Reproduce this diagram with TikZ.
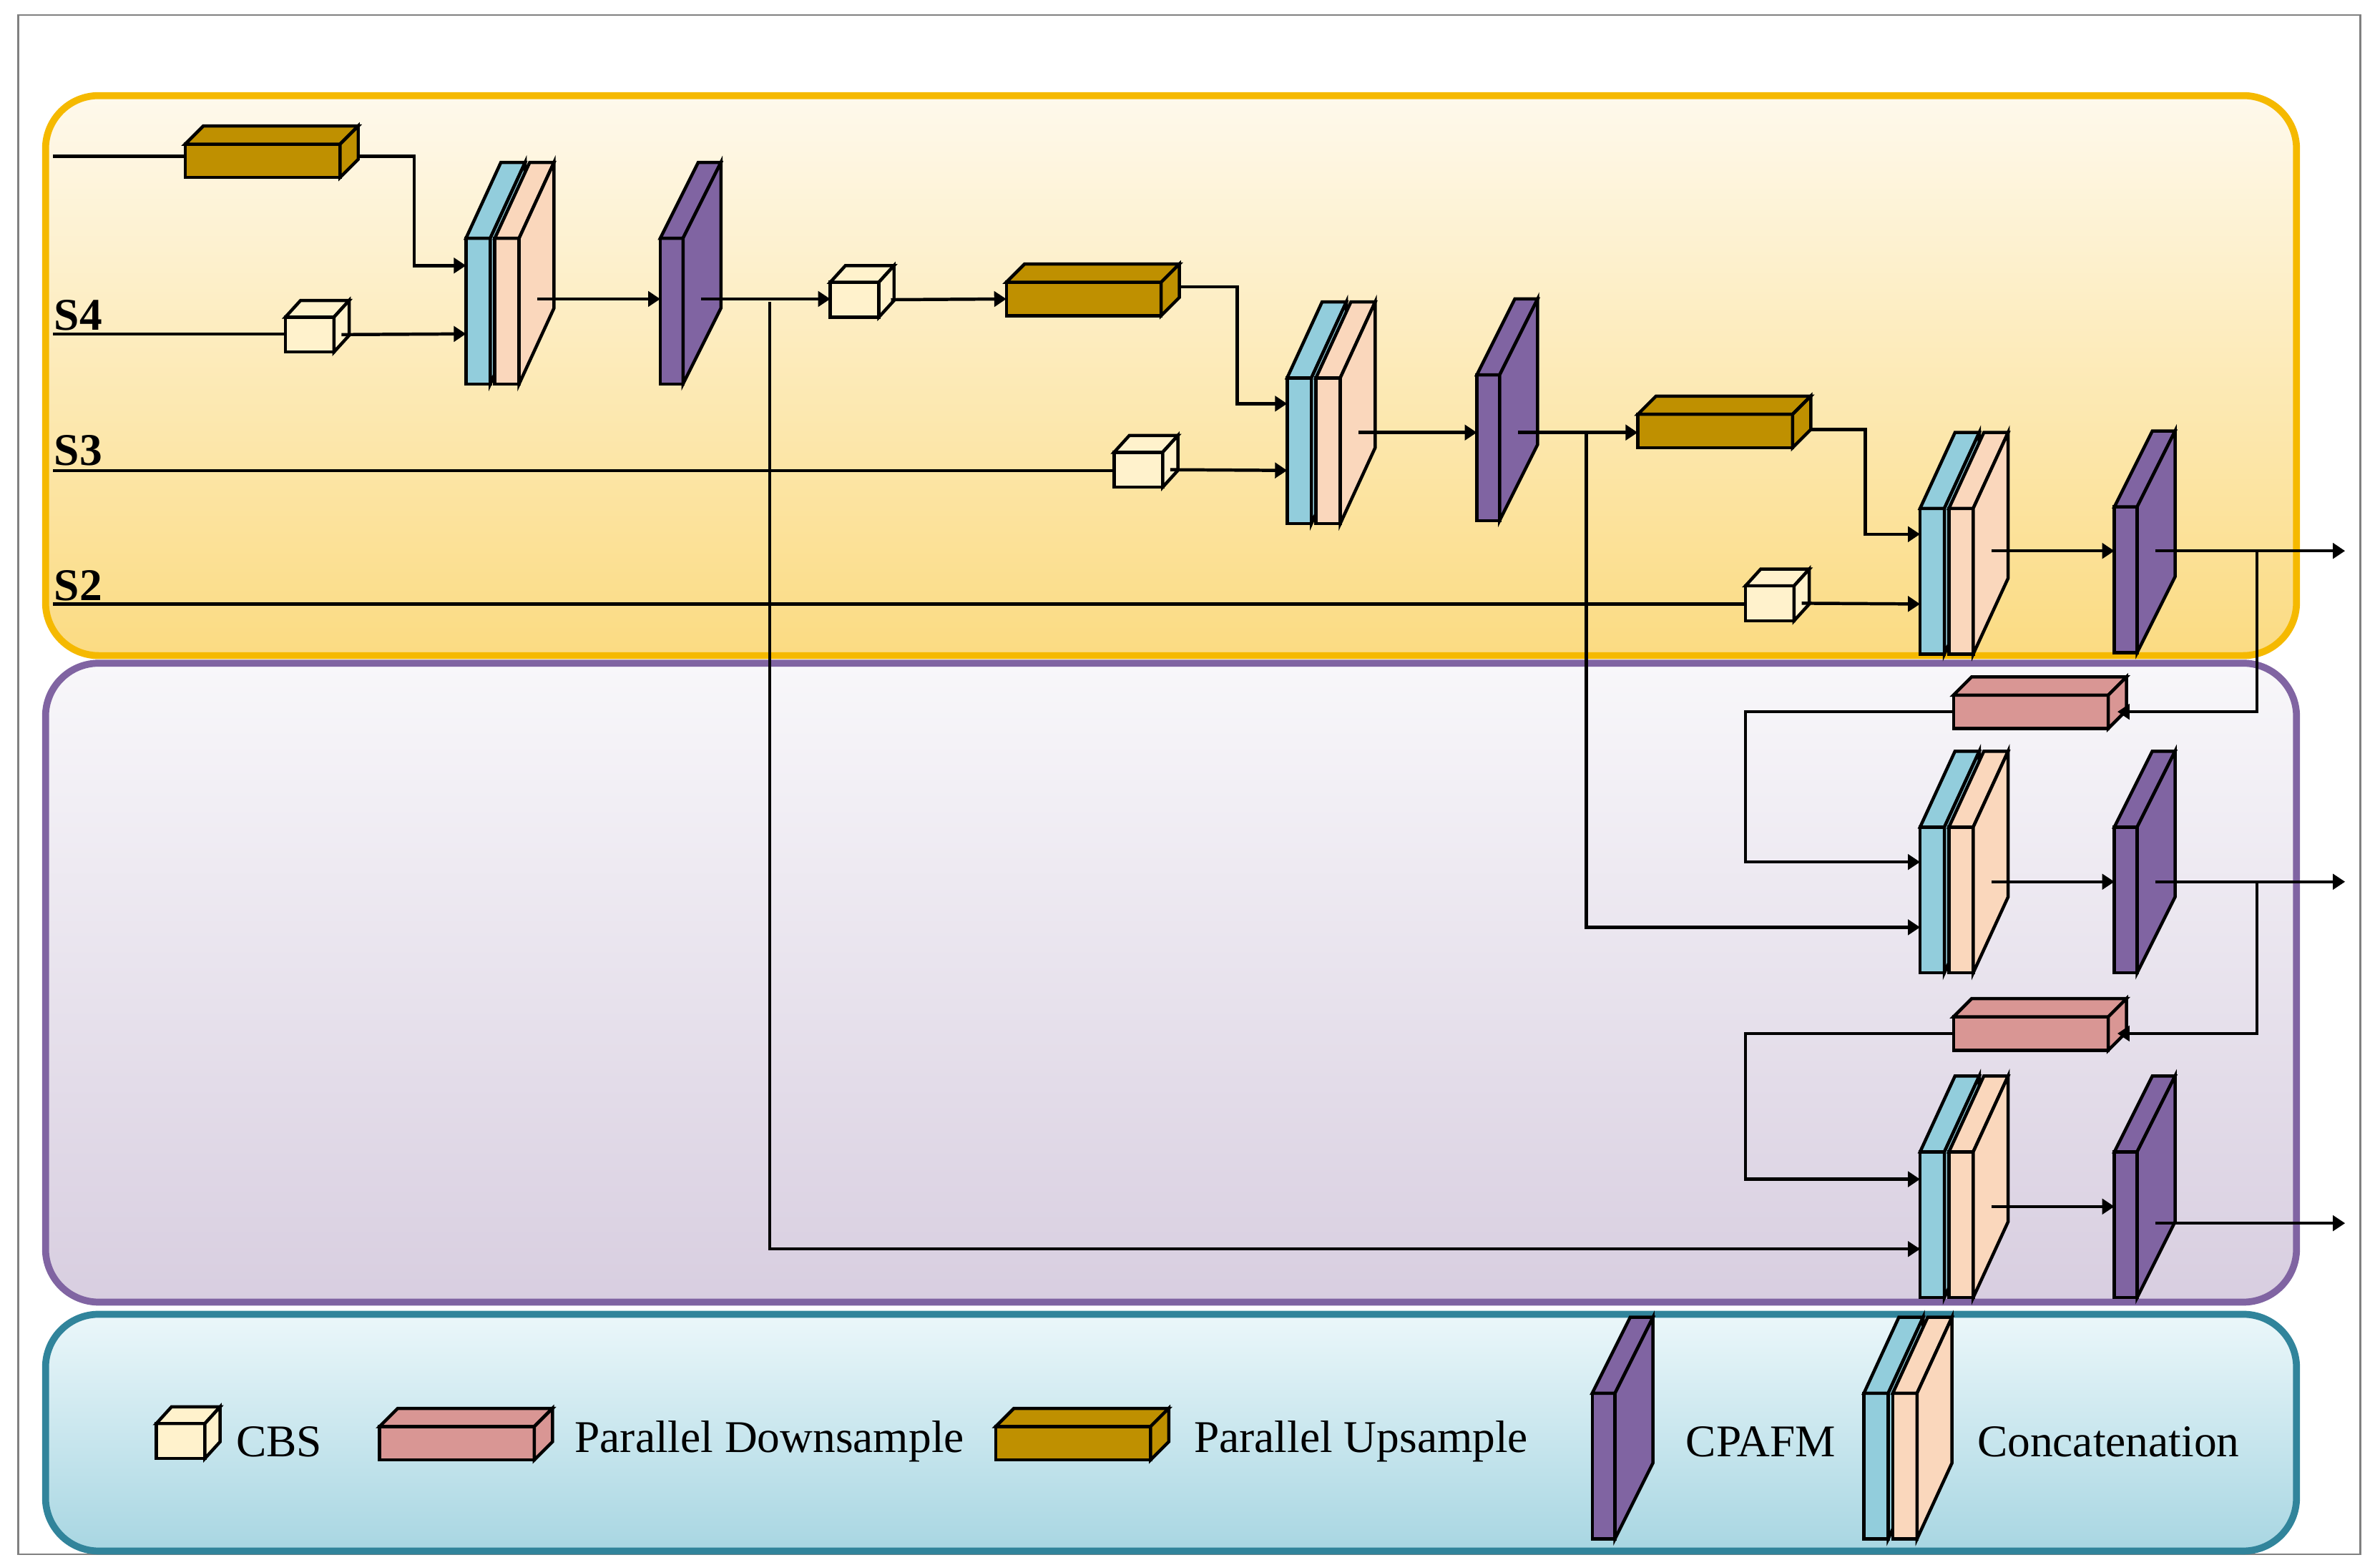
\documentclass[tikz,border=0pt]{standalone}
\usepackage{fontspec}
\setmainfont{Liberation Serif}
\usetikzlibrary{arrows.meta,calc}
\definecolor{cbsc}{HTML}{FFF2CC}
\definecolor{upc}{HTML}{BF9000}
\definecolor{downc}{HTML}{D99694}
\definecolor{cpafmc}{HTML}{8064A2}
\definecolor{catb}{HTML}{92CDDC}
\definecolor{catp}{HTML}{FAD7BC}
\tikzset{
  blkface/.style={draw,line width=0.6pt,inner sep=0pt,outer sep=0pt},
  blkline/.style={line width=0.6pt,line join=miter},
  arr/.style={line width=0.6pt,-{Triangle[length=0.08cm,width=0.1cm]}},
  ln/.style={line width=0.6pt},
  lbl/.style={font=\fontsize{8.5}{10}\selectfont,anchor=west,inner sep=0pt},
  slbl/.style={font=\fontsize{8.5}{10}\selectfont\bfseries,anchor=west,inner sep=0pt},
  panel/.style={rounded corners=0.35cm,line width=1.3pt}
}
% name, x, y, w, h, dx, dy, colour
\newcommand{\blk}[8]{%
  \node[blkface,fill=#8,minimum width=#4*0.01cm,minimum height=#5*0.01cm] (#1) at (#2+#4/2,#3+#5/2) {};
  \filldraw[blkline,fill=#8] (#1.north west) -- ++(#6,-#7) -- ++(#4,0) -- (#1.north east) -- cycle;
  \filldraw[blkline,fill=#8] (#1.north east) -- ++(#6,-#7) -- ++(0,#5) -- (#1.south east) -- cycle;}
\newcommand{\cbs}[3]{\blk{#1}{#2}{#3}{32}{23}{10}{11}{cbsc}}
\newcommand{\upb}[3]{\blk{#1}{#2}{#3}{102}{22}{12}{12}{upc}}
\newcommand{\downb}[3]{\blk{#1}{#2}{#3}{102}{22}{12}{12}{downc}}
\newcommand{\cpafm}[3]{\blk{#1}{#2}{#3}{15}{96}{25}{50}{cpafmc}}
\newcommand{\concat}[3]{\blk{#1b}{#2}{#3}{16}{96}{23}{50}{catb}\blk{#1p}{#2+19}{#3}{16}{96}{23}{50}{catp}}
\begin{document}
\begin{tikzpicture}[x=0.01cm,y=-0.01cm]
\useasboundingbox (0,0) rectangle (1568,1031);
\draw[gray,line width=0.3pt] (12,10) rectangle (1555,1024);
% panels
\draw[panel,draw={rgb,255:red,245;green,185;blue,0},top color={rgb,255:red,254;green,249;blue,236},bottom color={rgb,255:red,251;green,219;blue,130}] (30,63) rectangle (1513,432);
\draw[panel,draw=cpafmc,top color={rgb,255:red,248;green,247;blue,250},bottom color={rgb,255:red,216;green,206;blue,224}] (30,437) rectangle (1513,858);
\draw[panel,draw={rgb,255:red,49;green,132;blue,155},top color={rgb,255:red,235;green,247;blue,250},bottom color={rgb,255:red,168;green,214;blue,226}] (30,866) rectangle (1513,1022);

% blocks
\upb{up1}{122}{95}
\cbs{cb1}{188}{209}
\concat{c1}{307}{157}
\cpafm{f1}{435}{157}
\cbs{cb2}{547}{186}
\upb{up2}{663}{186}
\cbs{cb3}{734}{298}
\concat{c2}{848}{249}
\cpafm{f2}{973}{247}
\upb{up3}{1079}{273}
\cbs{cb4}{1150}{386}
\concat{c3}{1265}{335}
\cpafm{f3}{1393}{334}
\downb{dn1}{1287}{458}
\concat{c4}{1265}{545}
\cpafm{f4}{1393}{545}
\downb{dn2}{1287}{670}
\concat{c5}{1265}{759}
\cpafm{f5}{1393}{759}

% inputs
\coordinate (in5) at (35,103);
\coordinate (s4) at (35,220);
\coordinate (s3) at (35,310);
\coordinate (s2) at (35,398);
\node[slbl] (ls4) at (35,208) {S4};
\node[slbl] (ls3) at (35,297) {S3};
\node[slbl] (ls2) at (35,386) {S2};

% connectors
\draw[ln] (in5) -- (up1.west |- in5);
\draw[arr] (up1.east) ++(12,-3) -- (273,103) |- (c1b.west |- 0,175);
\draw[ln] (s4) -- (cb1.west |- s4);
\draw[arr] (cb1.east) ++(5,0) -- (c1b.west |- 0,220);
\draw[arr] ($(c1p.east)+(12,-8)$) -- (f1.west |- 0,197);
\draw[arr] ($(f1.east)+(12,-8)$) -- (cb2.west |- 0,197);
\draw[ln] (507,199) |- (c5b.west |- 0,823);
\draw[-{Triangle[length=0.08cm,width=0.1cm]},line width=0.6pt] (1248,823) -- (c5b.west |- 0,823);
\draw[arr] (cb2.east) ++(8,0) -- (up2.west);
\draw[arr] (up2.east) ++(12,-8) -- (815,189) |- (c2b.west |- 0,266);
\draw[ln] (s3) -- (cb3.west |- s3);
\draw[arr] (cb3.east) ++(5,0) -- (c2b.west |- 0,310);
\draw[arr] ($(c2p.east)+(12,-12)$) -- (f2.west |- 0,285);
\draw[arr] ($(f2.east)+(12,-10)$) -- (up3.west |- 0,285);
\draw[arr] (1045,285) |- (c4b.west |- 0,611);
\draw[arr] (up3.east) ++(12,-1) -- (1229,283) |- (c3b.west |- 0,352);
\draw[ln] (s2) -- (cb4.west |- s2);
\draw[arr] (cb4.east) ++(5,0) -- (c3b.west |- 0,398);
\draw[arr] ($(c3p.east)+(12,-20)$) -- (f3.west |- 0,363);
\draw[arr] ($(f3.east)+(12,-19)$) -- (1545,363);
\draw[arr] (1487,363) |- ($(dn1.east)+(6,0)$);
\draw[arr] (dn1.west) -| (1150,568) -- (c4b.west |- 0,568);
\draw[arr] ($(c4p.east)+(12,-12)$) -- (f4.west |- 0,581);
\draw[arr] ($(f4.east)+(12,-12)$) -- (1545,581);
\draw[arr] (1487,581) |- ($(dn2.east)+(6,0)$);
\draw[arr] (dn2.west) -| (1150,777) -- (c5b.west |- 0,777);
\draw[arr] ($(c5p.east)+(12,-12)$) -- (f5.west |- 0,795);
\draw[arr] ($(f5.east)+(12,-1)$) -- (1545,806);

% legend
\cbs{lg1}{103}{938}
\node[lbl] (t1) at (155,950) {CBS};
\downb{lg2}{250}{940}
\node[lbl] (t2) at (378,950) {Parallel Downsample};
\upb{lg3}{656}{940}
\node[lbl] (t3) at (786,950) {Parallel Upsample};
\cpafm{lg4}{1049}{918}
\node[lbl] (t4) at (1110,950) {CPAFM};
\concat{lg5}{1228}{918}
\node[lbl] (t5) at (1302,950) {Concatenation};
\end{tikzpicture}
\end{document}
